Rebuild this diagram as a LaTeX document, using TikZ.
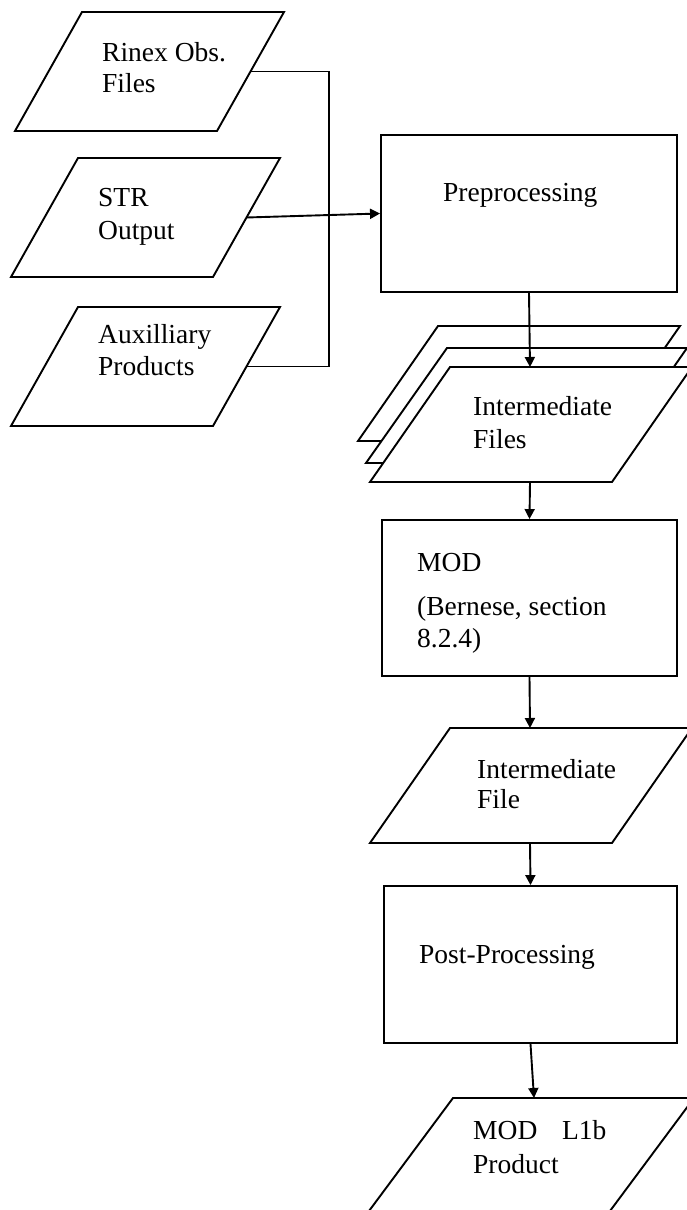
\documentclass[tikz,border=0pt]{standalone}
\usepackage{fontspec}
\setmainfont{Liberation Serif}
\usetikzlibrary{arrows.meta}
\begin{document}
\begin{tikzpicture}[x=1pt,y=-1pt,
  lw/.style={line width=1.9pt},
  para/.style={lw, draw=black, fill=white, line join=miter},
  boxn/.style={lw, draw=black, fill=white, rectangle, inner sep=0pt},
  lbl/.style={anchor=base west, inner sep=0pt, font=\fontsize{27.5}{32}\selectfont},
  conn/.style={lw},
  arr/.style={lw, -{Triangle[length=10pt,width=10pt]}}]
\useasboundingbox (0,0) rectangle (687,1210);
\clip (0,0) rectangle (687,1210);

% input parallelograms
\draw[para] (82,12) -- (284,12) -- (217,131) -- (15,131) -- cycle;
\coordinate (rinexR) at (250.5,71.5);
\node[lbl] (rinexA) at (102,61) {Rinex Obs.};
\node[lbl] (rinexB) at (102,92) {Files};

\draw[para] (78,158) -- (280,158) -- (213,277) -- (11,277) -- cycle;
\coordinate (strR) at (246.5,217.5);
\node[lbl] (strA) at (98,206) {STR};
\node[lbl] (strB) at (98,239) {Output};

\draw[para] (78,307) -- (280,307) -- (213,426) -- (11,426) -- cycle;
\coordinate (auxR) at (246.5,366.5);
\node[lbl] (auxA) at (98,343) {Auxilliary};
\node[lbl] (auxB) at (98,375) {Products};

\coordinate (bus) at (329,0);
\draw[conn] (rinexR) -- (rinexR -| bus) |- (auxR);

% preprocessing
\node[boxn, minimum width=296pt, minimum height=157pt] (prep) at (529,213.5) {};
\node[lbl] (prepT) at (443,201) {Preprocessing};
\draw[arr] (strR) -- (prep.west);

% stacked intermediate files
\draw[para] (438,326) -- (680,326) -- (600,441) -- (358,441) -- cycle;
\draw[para] (447,348) -- (687,348) -- (607,463) -- (366,463) -- cycle;
\draw[para] (450,367) -- (692,367) -- (612,482) -- (370,482) -- cycle;
\coordinate (filesT) at (530,367);
\coordinate (filesB) at (530,482);
\node[lbl] (filesA) at (473,415) {Intermediate};
\node[lbl] (filesB2) at (473,448) {Files};
\draw[arr] (prep.south) -- (filesT);

% MOD
\node[boxn, minimum width=295pt, minimum height=156pt] (mod) at (529.5,598) {};
\node[lbl] (modA) at (417,571) {MOD};
\node[lbl] (modB) at (417,615) {(Bernese, section};
\node[lbl] (modC) at (417,647) {8.2.4)};
\draw[arr] (filesB) -- (mod.north);

% intermediate file
\draw[para] (450,728) -- (692,728) -- (612,843) -- (370,843) -- cycle;
\coordinate (intT) at (530,728);
\coordinate (intB) at (530,843);
\node[lbl] (intA) at (477,778) {Intermediate};
\node[lbl] (intB2) at (477,808) {File};
\draw[arr] (mod.south) -- (intT);

% post-processing
\node[boxn, minimum width=293pt, minimum height=157pt] (post) at (530.5,964.5) {};
\node[lbl] (postT) at (419,963) {Post-Processing};
\draw[arr] (intB) -- (post.north);

% L1b product
\draw[para] (453,1098) -- (694,1098) -- (607,1215) -- (366,1215) -- cycle;
\coordinate (l1bT) at (534,1098);
\node[lbl] (l1bA) at (473,1139) {MOD\hspace{0.9em}L1b};
\node[lbl] (l1bB) at (473,1173) {Product};
\draw[arr] (post.south) -- (l1bT);
\end{tikzpicture}
\end{document}
